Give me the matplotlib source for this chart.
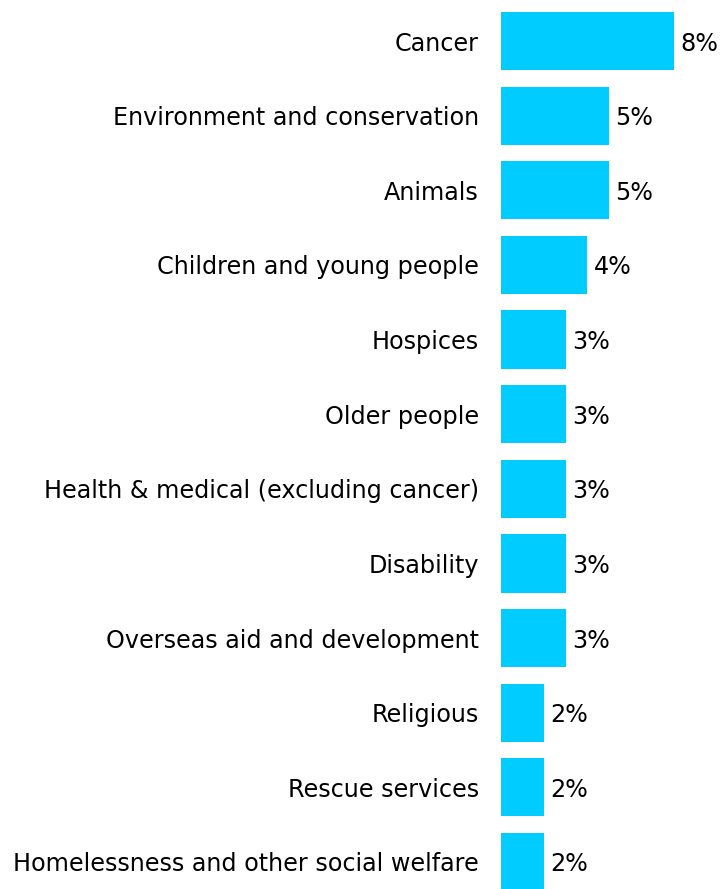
import matplotlib
matplotlib.use("Agg")
import matplotlib.pyplot as plt

# share of respondents giving to each cause (%)
causes = [
    "Cancer",
    "Environment and conservation",
    "Animals",
    "Children and young people",
    "Hospices",
    "Older people",
    "Health & medical (excluding cancer)",
    "Disability",
    "Overseas aid and development",
    "Religious",
    "Rescue services",
    "Homelessness and other social welfare",
]
shares = [8, 5, 5, 4, 3, 3, 3, 3, 3, 2, 2, 2]

bar_color = "#00CCFF"
font = dict(family="DejaVu Sans", size=17.2)

fig = plt.figure(figsize=(7.25, 8.89), dpi=100)
ax = fig.add_axes([501 / 725, 0, 224 / 725, 1])

pos = list(range(len(causes)))
ax.barh(pos, shares, height=0.78, color=bar_color)

ax.set_xlim(0, 224 / 21.6)
ax.set_ylim(11 + 27 / 74.6, -41 / 74.6)

for y, v in zip(pos, shares):
    ax.text(v + 0.3, y, f"{v}%", va="center_baseline", ha="left", **font)

ax.set_yticks(pos)
ax.set_yticklabels(causes, **font)
ax.tick_params(axis="y", length=0, pad=16)
ax.set_xticks([])
for s in ax.spines.values():
    s.set_visible(False)

fig.savefig("out.png", dpi=100)
